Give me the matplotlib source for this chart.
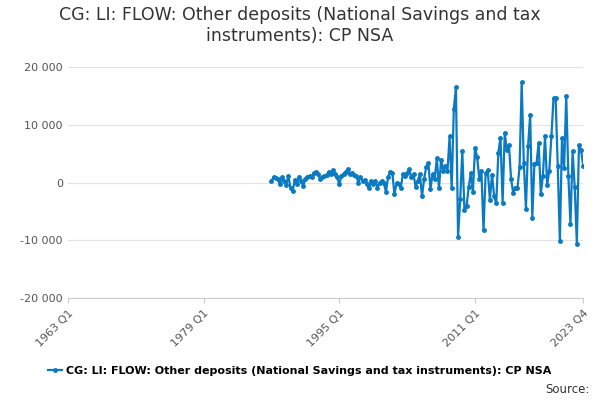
import numpy as np
import matplotlib.pyplot as plt
from matplotlib.ticker import FuncFormatter

# quarterly values, ending 2023 Q4
early = [200, 1000, 750, 600, -300, 900, 300, -400, 1150, -1000, -1450, 400, -300, 1000,
         300, -600, 600, 900, 1150, 900, 1750, 1900, 1450, 600, 900, 1150, 1300, 1900,
         1550, 2150, 1450, 900, -300, 1150, 1550, 1900, 2300, 1550, 1750, 1300, 1150, 0,
         900, 300, 400, -300, -1000, 200, -300, 300, -850, 0, 300, -150, -1550, 900,
         1900, 1750, -2000, -150, -300, -850, 1450, 1150, 1750, 2300, 900, 1450, -750, 300]
late = [1500, -2400, 700, 2700, 3400, -1100, 1500, 700, 4200, -1000, 4000, 2000, 2900,
        2000, 8000, -1000, 12800, 16500, -9500, -2900, 5400, -4700, -4100, -800, 1600,
        -1700, 6000, 4400, 700, 2000, -8300, 1600, 2100, -3000, 1400, -2300, -3600, 5200,
        7800, -3500, 8600, 5600, 6500, 600, -1800, -1000, -1000, 2700, 17400, 3400, -4500,
        6300, 11800, -6100, 3300, 3400, 6900, -2000, 1200, 8000, -400, 2000, 8000, 14600,
        14600, 2900, -10200, 7800, 2500, 15000, 1200, -7200, 5400, -800, -10600, 6500,
        5600, 2900]
values = early + late
n = len(values)
x = 2023.75 - 0.25 * np.arange(n)[::-1]

tick_pos = [1963.0, 1979.0, 1995.0, 2011.0, 2023.75]
tick_lab = ["1963 Q1", "1979 Q1", "1995 Q1", "2011 Q1", "2023 Q4"]

fig, ax = plt.subplots(figsize=(6, 4), dpi=100)
plt.subplots_adjust(left=0.113, right=0.972, bottom=0.255, top=0.832)
col = "#0a7ac2"
ax.plot(x, values, color=col, lw=1.6, marker="o", ms=2.5,
        label="CG: LI: FLOW: Other deposits (National Savings and tax instruments): CP NSA")
ax.set_xlim(1963.0, 2023.75)
ax.set_ylim(-20000, 20000)
ax.set_yticks([-20000, -10000, 0, 10000, 20000])
ax.yaxis.set_major_formatter(FuncFormatter(lambda v, p: f"{int(v):,}".replace(",", " ")))
ax.grid(axis="y", color="#e3e3e3", lw=0.8)
ax.set_xticks(tick_pos)
ax.set_xticklabels(tick_lab, rotation=45, ha="right", rotation_mode="anchor")
for s in ["top", "right", "left"]:
    ax.spines[s].set_visible(False)
ax.spines["bottom"].set_color("#cccccc")
ax.tick_params(axis="y", length=0, labelsize=8, colors="#555555")
ax.tick_params(axis="x", labelsize=8, colors="#555555", color="#cccccc")
ax.set_axisbelow(True)
fig.suptitle("CG: LI: FLOW: Other deposits (National Savings and tax\ninstruments): CP NSA",
             fontsize=12.5, color="#333333", y=0.985)
fig.legend(loc="lower center", bbox_to_anchor=(0.5, 0.035), frameon=False, fontsize=8,
           handlelength=1.2, handletextpad=0.4, prop={"weight": "bold", "size": 8})
fig.text(0.982, 0.01, "Source:", ha="right", va="bottom", fontsize=8.5, color="#333333")
fig.savefig("out.png")
